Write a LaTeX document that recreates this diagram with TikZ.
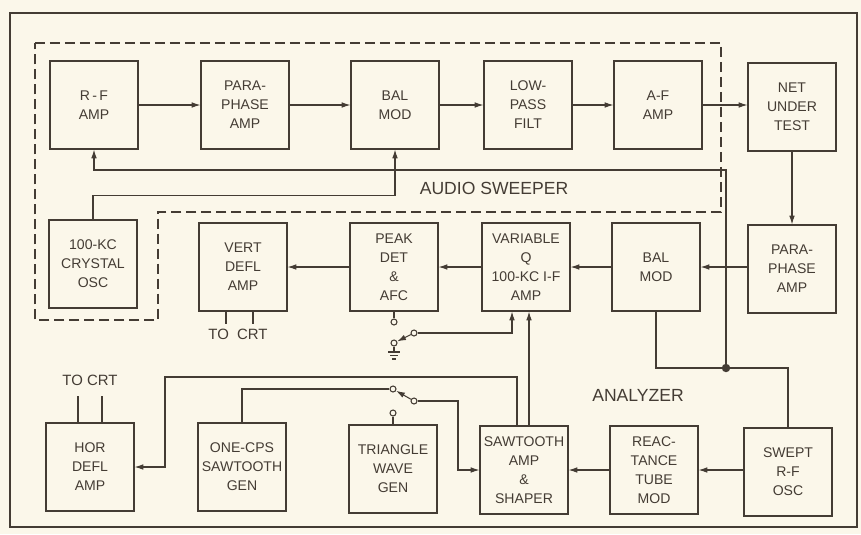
\documentclass[tikz,border=0pt]{standalone}
\usepackage{fontspec}
\setmainfont{Liberation Sans}
\usepackage{xcolor}
\usetikzlibrary{arrows.meta,calc}
\definecolor{ink}{RGB}{68,60,52}
\definecolor{paper}{RGB}{251,247,234}

\begin{document}
\begin{tikzpicture}[x=0.02cm, y=-0.02cm, color=ink, line width=0.6pt,
    >={Latex[length=5pt,width=3.2pt]},
    blk/.style={draw, fill=paper, minimum width=1.76cm, minimum height=1.76cm,
      inner sep=1pt, align=center, font=\fontsize{8}{10.8}\selectfont},
    tag/.style={font=\fontsize{10}{12}\selectfont},
    contact/.style={circle, draw, fill=paper, inner sep=0pt, minimum size=0.12cm}]
    \fill[paper] (0,0) rectangle (861,534);
    \draw[line width=1.4pt] (10,13) rectangle (857,527);
    \draw[dash pattern=on 0.2cm off 0.1cm] (35,43) -- (721,43) -- (721,212) -- (158,212) -- (158,320) -- (35,320) -- cycle;

    \node[blk] (rfamp) at (94,105) {R\,-\,F\\AMP};
    \node[blk] (para1) at (245,105) {PARA-\\PHASE\\AMP};
    \node[blk] (bal1) at (395,105) {BAL\\MOD};
    \node[blk] (lpf) at (528,105) {LOW-\\PASS\\FILT};
    \node[blk] (afamp) at (658,105) {A-F\\AMP};
    \node[blk] (net) at (792,107) {NET\\UNDER\\TEST};

    \node[blk] (xtal) at (93,264) {100-KC\\CRYSTAL\\OSC};
    \node[blk] (vert) at (243,267) {VERT\\DEFL\\AMP};
    \node[blk] (peak) at (394,267) {PEAK\\DET\\\&\\AFC};
    \node[blk] (varq) at (526,267) {VARIABLE\\Q\\100-KC I-F\\AMP};
    \node[blk] (bal2) at (656,267) {BAL\\MOD};
    \node[blk] (para2) at (792,269) {PARA-\\PHASE\\AMP};

    \node[blk] (hor) at (90,467) {HOR\\DEFL\\AMP};
    \node[blk] (onecps) at (242,467) {ONE-CPS\\SAWTOOTH\\GEN};
    \node[blk] (tri) at (393,469) {TRIANGLE\\WAVE\\GEN};
    \node[blk] (sawamp) at (524,470) {SAWTOOTH\\AMP\\\&\\SHAPER};
    \node[blk] (react) at (654,470) {REAC-\\TANCE\\TUBE\\MOD};
    \node[blk] (swept) at (788,472) {SWEPT\\R-F\\OSC};

    \node[tag] (sweeper) at (494,188) {AUDIO SWEEPER};
    \node[tag] (analyzer) at (638,395) {ANALYZER};

    \foreach \a/\b in {rfamp/para1, para1/bal1, bal1/lpf, lpf/afamp, bal2/varq, varq/peak, peak/vert, react/sawamp}
      \draw[->] (\a) -- (\b);
    \draw[->] (afamp.east) -- (afamp.east -| net.west);
    \draw[->] (net) -- (para2);
    \draw[->] (para2.west |- bal2.east) -- (bal2.east);
    \draw[->] (swept.west |- react.east) -- (react.east);

    \coordinate (jn) at (726,368);
    \coordinate (fb) at (94,170);
    \draw (bal2.south) |- (jn) -| (swept.north);
    \fill (jn) circle (2.4pt);
    \draw[->] (jn) |- (fb) -- (rfamp.south);
    \draw[->] (xtal.north) -- ++(0,-24) -| (bal1.south);

    \draw ($(vert.south)+(-17,0)$) -- ++(0,12);
    \draw ($(vert.south)+(10,0)$) -- ++(0,12);
    \node[font=\fontsize{8.5}{10}\selectfont] (crt1) at (238,334) {TO\ \ CRT};
    \draw ($(hor.north)+(-12,0)$) -- ++(0,-26);
    \draw ($(hor.north)+(12,0)$) -- ++(0,-26);
    \node[font=\fontsize{8.5}{10}\selectfont] (crt2) at (90,380) {TO CRT};

    \node[contact] (p1) at (394,322) {};
    \node[contact] (piv1) at (394,343) {};
    \node[contact] (c1) at (414,333) {};
    \draw (peak.south) -- (p1);
    \draw[->] (c1) -- (piv1);
    \draw[->] (c1) -| ($(varq.south)+(-14,0)$);
    \draw (piv1.south) -- ++(0,6);
    \foreach \w/\d in {6/9, 4/12.5, 2/16}
      \draw ($(piv1)+(-\w,\d)$) -- ++(2*\w,0);

    \node[contact] (s2a) at (393,389) {};
    \node[contact] (s2b) at (414,401) {};
    \node[contact] (s2c) at (393,413) {};
    \draw[->] (s2b) -- (s2a);
    \draw (tri.north) -- (s2c);
    \draw (onecps.north) |- (s2a);
    \coordinate (k2) at (458,401);
    \draw[->] (s2b) -- (k2) |- (sawamp.west);

    \coordinate (k3) at (165,377);
    \draw[->] ($(sawamp.north)+(-7,0)$) |- (k3) |- (hor.east);
    \draw[->] ($(sawamp.north)+(5,0)$) -- ($(varq.south)+(3,0)$);
\end{tikzpicture}
\end{document}
